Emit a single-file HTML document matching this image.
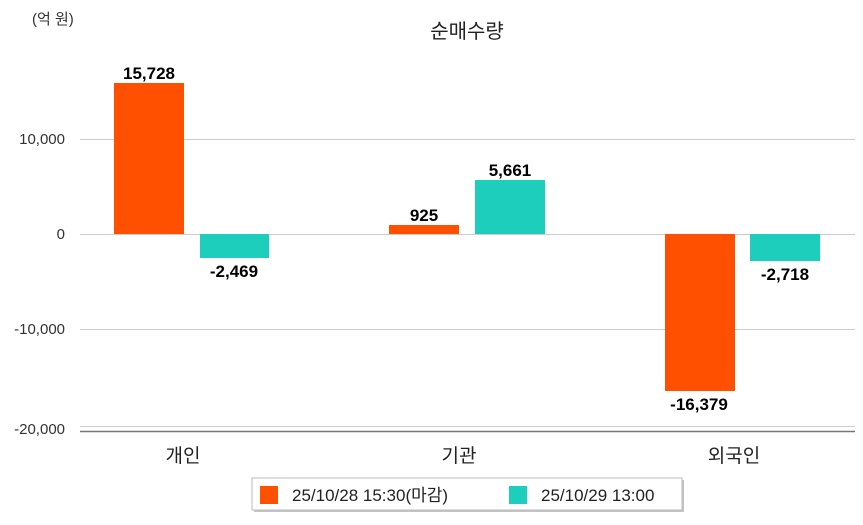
<!DOCTYPE html>
<html><head><meta charset="utf-8"><style>
html,body{margin:0;padding:0;background:#fff;}
body{width:863px;height:520px;overflow:hidden;position:relative;font-family:"Liberation Sans","Noto Sans CJK KR",sans-serif;}
</style></head><body>
<svg width="863" height="520" xmlns="http://www.w3.org/2000/svg" font-family="Liberation Sans, Noto Sans CJK KR, sans-serif">
<text x="32" y="24" font-size="15" fill="#333">(억 원)</text>
<text x="467" y="38" font-size="20" fill="#222" text-anchor="middle">순매수량</text>
<g stroke="#ccc" stroke-width="1">
<line x1="80" y1="139.5" x2="855" y2="139.5"/>
<line x1="80" y1="234.5" x2="855" y2="234.5"/>
<line x1="80" y1="329.5" x2="855" y2="329.5"/>
<line x1="80" y1="426.5" x2="855" y2="426.5"/>
</g>
<line x1="80" y1="431.5" x2="855" y2="431.5" stroke="#777" stroke-width="1.5"/>
<g font-size="15" fill="#333" text-anchor="end">
<text x="65" y="144">10,000</text>
<text x="65" y="239">0</text>
<text x="65" y="334">-10,000</text>
<text x="65" y="434">-20,000</text>
</g>
<g fill="#ff5000">
<rect x="114" y="83" width="70" height="151"/>
<rect x="389" y="225" width="70" height="9"/>
<rect x="665" y="234" width="70" height="157"/>
</g>
<g fill="#1ecebd">
<rect x="200" y="234" width="69" height="24"/>
<rect x="475" y="180" width="70" height="54"/>
<rect x="750" y="234" width="70" height="27"/>
</g>
<g font-size="17" fill="#000" text-anchor="middle" font-weight="bold" style="font-weight:600">
<text x="149" y="79">15,728</text>
<text x="234" y="277">-2,469</text>
<text x="424" y="221">925</text>
<text x="510" y="176">5,661</text>
<text x="699" y="410">-16,379</text>
<text x="785" y="280">-2,718</text>
</g>
<g font-size="19" fill="#222" text-anchor="middle">
<text x="183" y="462">개인</text>
<text x="459" y="462">기관</text>
<text x="734" y="462">외국인</text>
</g>
<rect x="254" y="480" width="430" height="32" fill="#555" opacity="0.35"/>
<rect x="252" y="478" width="430" height="32" fill="#fff" stroke="#bbb"/>
<rect x="260" y="486" width="18" height="18" fill="#ff5000"/>
<text x="292" y="501" font-size="17" fill="#222">25/10/28 15:30(마감)</text>
<rect x="509" y="486" width="18" height="18" fill="#1ecebd"/>
<text x="541" y="501" font-size="17" fill="#222">25/10/29 13:00</text>
</svg>
</body></html>
